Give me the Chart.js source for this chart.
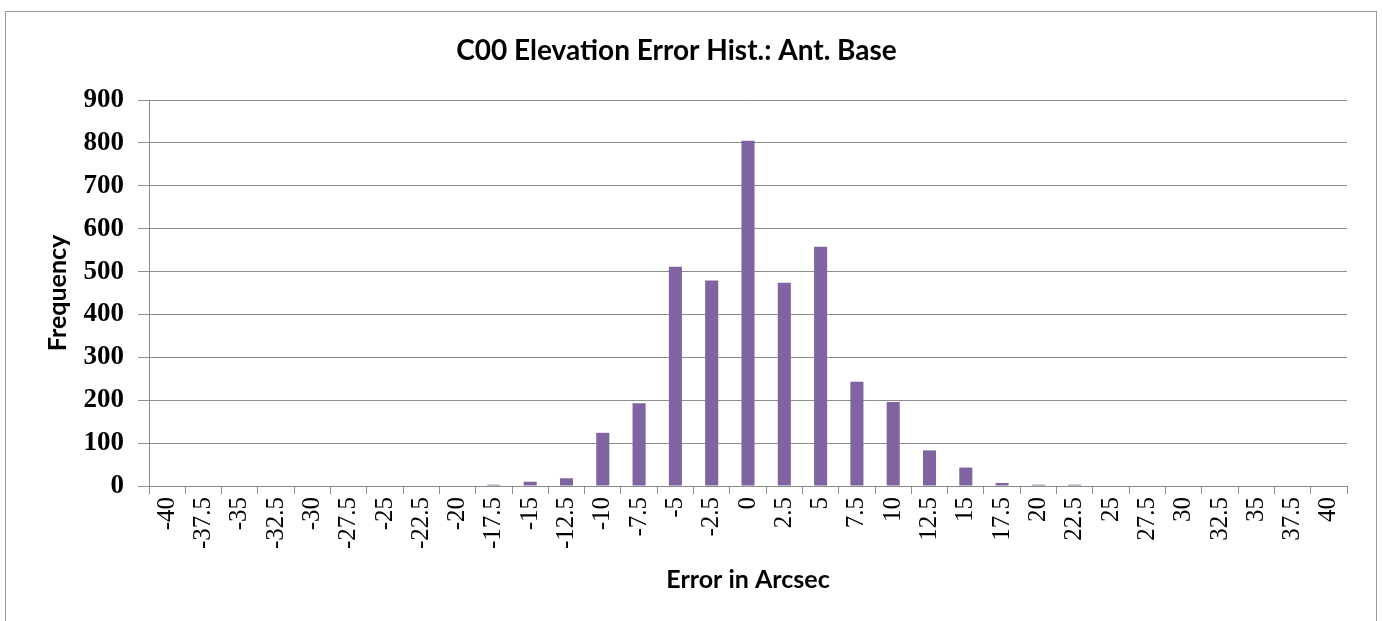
<!DOCTYPE html>
<html>
<head>
<meta charset="utf-8">
<script src="https://cdn.jsdelivr.net/npm/chart.js@4.4.0/dist/chart.umd.min.js"></script>
<style>
  html, body { margin: 0; padding: 0; background: #fff; overflow: hidden; }
  #frame {
    position: absolute; left: 5px; top: 11px;
    width: 1370px; height: 612px;
    border: 1px solid #9a9a9a;
  }
  #frame canvas { display: block; }
</style>
</head>
<body>
<div id="frame"><canvas id="hist"></canvas></div>
<script>
// Histogramme erreur d'élévation
const binLabels = [
  "-40", "-37.5", "-35", "-32.5", "-30", "-27.5", "-25", "-22.5", "-20",
  "-17.5", "-15", "-12.5", "-10", "-7.5", "-5", "-2.5", "0",
  "2.5", "5", "7.5", "10", "12.5", "15", "17.5", "20", "22.5",
  "25", "27.5", "30", "32.5", "35", "37.5", "40"
];
const frequency = [
  0, 0, 0, 0, 0, 0, 0, 0, 0,
  3, 10, 18, 124, 193, 511, 479, 805,
  474, 558, 243, 196, 83, 43, 7, 3, 3,
  0, 0, 0, 0, 0, 0, 0
];
const yTicks = [0, 100, 200, 300, 400, 500, 600, 700, 800, 900];

const gridGray = "#8c8c8c";

new Chart(document.getElementById("hist"), {
  type: "bar",
  data: {
    labels: binLabels,
    datasets: [
      {
        label: "Frequency",
        data: frequency,
        backgroundColor: "rgb(128, 100, 162)",
        borderWidth: 0,
        barPercentage: 0.36,
        categoryPercentage: 1,
      },
    ],
  },
  options: {
    responsive: true,
    maintainAspectRatio: false,
    animation: false,
    layout: { padding: { left: 0, right: 29, top: 0, bottom: 0 } },
    plugins: {
      legend: { display: false },
      tooltip: { enabled: false },
      title: {
        display: true,
        text: "C00 Elevation Error Hist.: Ant. Base",
        color: "#000",
        font: { family: "Lato", size: 28, weight: "bold" },
        padding: { top: 22, bottom: 32.4 },
      },
    },
    scales: {
      x: {
        afterFit: (scale) => { scale.height = 138; },
        grid: {
          offset: true,
          drawOnChartArea: false,
          drawTicks: true,
          tickLength: 8,
          color: gridGray,
        },
        border: { display: true, color: gridGray },
        ticks: {
          autoSkip: false,
          minRotation: 90,
          maxRotation: 90,
          padding: 3,
          color: "#000",
          font: { family: "Liberation Serif", size: 25 },
        },
        title: {
          display: true,
          text: "Error in Arcsec",
          color: "#000",
          font: { family: "Lato", size: 25, weight: "bold" },
          padding: { top: 0, bottom: 29 },
        },
      },
      y: {
        min: yTicks[0],
        max: yTicks[yTicks.length - 1],
        afterFit: (scale) => { scale.width = 143; },
        afterBuildTicks: (scale) => {
          scale.ticks = yTicks.map((v) => ({ value: v }));
        },
        grid: {
          color: gridGray,
          tickLength: 11,
          drawTicks: true,
        },
        border: { display: true, color: gridGray },
        ticks: {
          padding: 14,
          color: "#000",
          font: { family: "Liberation Serif", size: 27, weight: "bold" },
        },
        title: {
          display: true,
          text: "Frequency",
          color: "#000",
          font: { family: "Lato", size: 25, weight: "bold" },
          padding: { top: 37, bottom: 0 },
        },
      },
    },
  },
});
</script>
</body>
</html>
